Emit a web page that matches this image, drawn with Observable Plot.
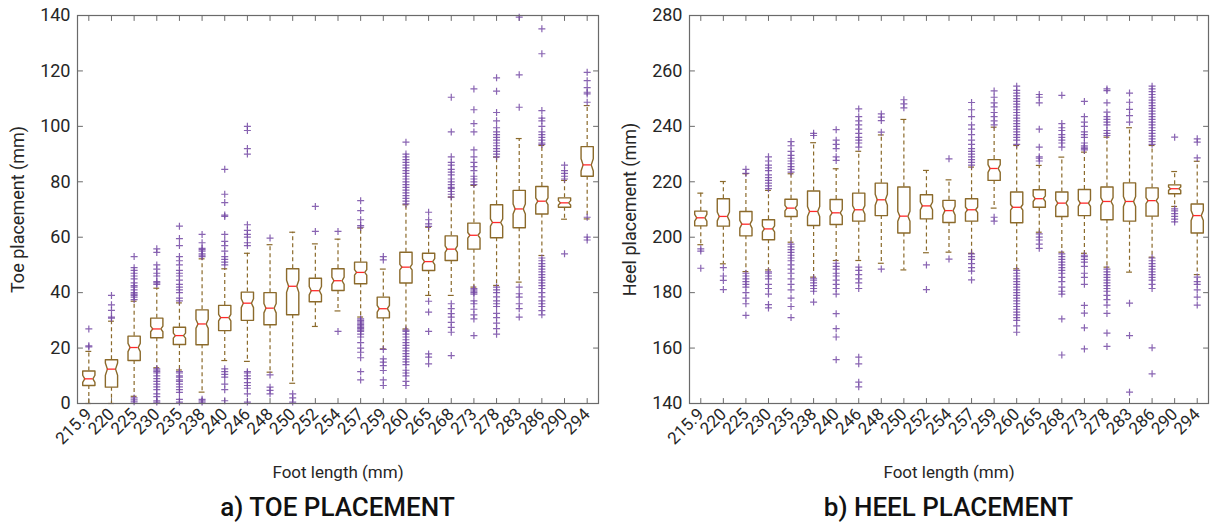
<!DOCTYPE html>
<html>
<head>
<meta charset="utf-8">
<script src="https://cdn.jsdelivr.net/npm/d3@7"></script>
<script src="https://cdn.jsdelivr.net/npm/@observablehq/plot@0.6"></script>
<style>
  body { margin: 0; background: #fff; font-family: Roboto, "DejaVu Sans", sans-serif; }
  #wrap { display: flex; width: 1210px; height: 522px; overflow: hidden; }
  .panel { width: 605px; }
  .panel svg { display: block; }
  .title { font-size: 26px; font-weight: 500; color: #111; text-align: center; line-height: 28px; padding-top: 5px; }
</style>
</head>
<body>
<div id="wrap"></div>
<script>
// Foot length categories (mm)
const categories = ["215.9","220","225","230","235","238","240","246","248","250","252","254","257","259","260","265","268","273","278","283","286","290","294"];

// ---- Toe placement (mm): box statistics per foot length ----
const toeQ1  = [6.5, 5.9, 15.5, 23.7, 21.3, 21.2, 26.3, 30.0, 28.4, 32.0, 36.7, 40.8, 43.2, 30.9, 43.5, 48.0, 51.6, 55.7, 59.8, 63.4, 68.4, 70.8, 82.0];
const toeMed = [8.9, 12.4, 20.2, 26.9, 24.5, 28.7, 31.0, 36.2, 34.4, 42.3, 40.7, 44.3, 47.3, 34.2, 49.2, 51.2, 55.7, 60.7, 65.3, 70.2, 73.0, 72.4, 86.1];
const toeQ3  = [11.7, 15.8, 24.3, 30.8, 27.5, 33.8, 35.4, 40.2, 40.0, 48.6, 45.2, 48.6, 51.0, 38.4, 54.6, 54.2, 60.5, 65.1, 71.7, 76.9, 78.3, 74.2, 92.7];
const toeLo  = [0, 0, 2.6, 12.9, 12.1, 4.1, 15.5, 15.2, 11.3, 7.3, 27.8, 33.4, 31.2, 19.7, 26.9, 39.0, 39.0, 42.0, 42.6, 43.8, 53.4, 66.5, 66.6];
const toeHi  = [18.8, 29.7, 36.9, 41.6, 36.3, 52.2, 48.6, 54.2, 57.3, 61.8, 57.6, 59.3, 63.3, 48.5, 71.7, 63.6, 74.5, 78.7, 88.9, 95.6, 93.1, 80.5, 107.5];
const toeNotch = [1.3, 2.2, 1.5, 1.0, 0.9, 1.6, 1.2, 1.6, 1.7, 2.2, 1.5, 1.3, 1.0, 1.2, 1.0, 1.1, 1.2, 1.0, 1.3, 1.8, 1.2, 0.8, 2.2];
const toeOutliers = [
  [20.4, 20.8, 26.9],
  [30.8, 31.2, 33.6, 35.6, 39.0],
  [0.6, 1.3, 2.0, 37.5, 38.4, 39, 39.5, 40, 41, 42, 42.5, 43.5, 45, 46, 47, 48, 49, 53],
  [0.5, 1, 2.5, 3.5, 5, 6, 7, 8, 9, 10, 11, 11.5, 12, 12.5, 43, 43.5, 44, 46, 47, 48.5, 50, 54.5, 55.8],
  [0.5, 1.5, 4, 5, 6, 7, 8, 8.5, 9.5, 10, 11, 11.5, 37, 38, 40, 41, 42, 43, 44.5, 46, 47, 48, 50, 51.5, 53, 57, 59.5, 64],
  [0.5, 1, 1.5, 53, 53.5, 54, 55, 55.5, 56, 58, 61],
  [1, 5, 7, 9.5, 10.5, 11.5, 12.5, 50, 51, 52, 53, 55, 57, 58.5, 61, 67.5, 68, 72.5, 75.5, 84.5],
  [0.5, 3.5, 5.5, 6.5, 7.5, 9, 10, 11, 11.5, 57, 58, 60, 61, 62.5, 64.5, 90, 92, 98.5, 100],
  [3.5, 4.7, 5.9, 10.3, 59.7],
  [0.5, 2, 3.5],
  [62.1, 71.1],
  [26, 62.1],
  [8.5, 11.5, 16.5, 18.5, 20, 22, 24, 25, 26, 26.5, 27, 27.5, 28, 28.5, 29, 29.5, 30, 30.5, 63.6, 64.2, 66.3, 69.6, 73.2],
  [6.5, 8.5, 11.9, 13.7, 14.9, 16.1, 19.5, 51.8, 53],
  [6.5, 8, 10, 11, 12, 14, 15, 16, 17, 18, 19, 20, 21, 22, 23, 24, 25, 26, 26.5, 72, 73, 74, 75, 76, 77, 78, 79, 80, 81, 82, 83, 84, 85, 86, 87, 88, 89, 90, 94.3],
  [14.3, 16.7, 17.9, 26, 33, 36.9, 63.9, 64.8, 66.3, 69],
  [17.3, 25.7, 27.5, 29.3, 31.2, 32.4, 34.2, 36, 74.5, 75.5, 76.5, 77.5, 78, 79, 80, 81, 82.5, 83.5, 84.5, 86, 87, 89, 98, 110.5],
  [24.5, 30.5, 32, 34, 36, 37, 39.5, 40, 40.5, 41, 41.5, 79, 80, 81, 82, 84, 85.5, 87, 89, 91.5, 98, 101, 106, 113.5],
  [25, 27, 29, 31, 32.5, 35, 36, 37, 38.5, 40, 41, 42, 89, 90, 91, 92, 93, 94, 95, 96, 97, 98, 99.5, 102, 105, 112.7, 117.5],
  [31.2, 34.2, 36, 38.4, 39.6, 42, 106.9, 118.6, 139.4],
  [32, 33.5, 35, 36, 37, 38.5, 40, 41.5, 42.5, 43.5, 44.5, 45.5, 46.5, 47.5, 48.5, 49.5, 50.5, 51.5, 52.5, 93.5, 94, 95, 96, 97, 98, 100, 102, 103, 105.7, 126.2, 135.2],
  [54, 81, 82, 83, 84, 86],
  [59, 60, 67.2, 108.7, 111.7, 112.3, 114, 116.5, 119.5]
];

// ---- Heel placement (mm): box statistics per foot length ----
const heelQ1  = [204.1, 204.0, 200.5, 199.1, 207.5, 204.2, 204.6, 205.8, 207.8, 201.5, 206.6, 205.3, 205.8, 220.5, 205.2, 210.8, 207.5, 207.8, 206.3, 205.8, 207.6, 215.7, 201.5];
const heelMed = [207.0, 207.5, 204.7, 203.0, 210.5, 209.3, 208.8, 209.9, 213.5, 207.6, 211.3, 209.6, 209.9, 224.8, 210.8, 213.9, 212.3, 212.3, 212.9, 212.9, 213.2, 217.5, 207.8];
const heelQ3  = [209.4, 213.9, 209.3, 206.3, 213.7, 216.7, 213.6, 215.9, 219.5, 218.1, 215.3, 213.3, 213.9, 228.0, 216.3, 217.1, 216.3, 217.2, 218.1, 219.6, 217.8, 218.9, 212.0];
const heelLo  = [197.3, 190.4, 187.6, 188.2, 198.2, 185.6, 191.6, 191.6, 190.6, 188.2, 194.4, 194.6, 194.2, 210.5, 188.6, 201.8, 194.6, 194.2, 189.2, 187.4, 192.8, 211.1, 186.5];
const heelHi  = [215.9, 220.1, 222.9, 216.9, 222.9, 234.1, 224.7, 231.0, 236.9, 242.5, 224.1, 220.7, 225.3, 239.7, 233.1, 225.9, 228.9, 230.7, 236.1, 239.5, 233.1, 223.7, 227.4];
const heelNotch = [1.2, 1.6, 1.4, 1.1, 1.0, 1.8, 1.2, 1.5, 2.0, 1.8, 1.4, 1.6, 1.0, 1.4, 1.0, 1.0, 1.2, 1.2, 1.4, 1.8, 1.1, 0.6, 1.8];
const heelOutliers = [
  [188.8, 195, 195.8],
  [181.1, 184.4, 186, 189],
  [171.8, 176, 178, 180, 182, 183, 184, 185, 186, 187, 223, 224.5],
  [174.5, 175.7, 179.5, 181.5, 183, 185, 186, 187, 187.5, 217.5, 218.5, 219.5, 220.5, 221.5, 222.5, 224, 225, 226, 227.5, 229],
  [171, 175, 178, 181, 183, 185, 187, 188.5, 190, 191.5, 192.5, 193.5, 194.5, 195.5, 196.5, 197.5, 223.5, 224.5, 225.5, 226.5, 227.5, 228.5, 229.5, 231, 233, 234.5],
  [176.6, 180.5, 181.5, 182.5, 183.5, 184.5, 185.2, 236.7, 237.5],
  [155.8, 164, 167, 172.4, 179.5, 181.5, 183, 184.5, 186, 187, 188.5, 189.5, 190.6, 227.7, 229, 232, 233.5, 235, 238.8],
  [146, 147.7, 154.3, 156.7, 181.5, 183.5, 185, 186.5, 188, 189.2, 232.5, 234, 235, 236, 237.5, 239, 240.5, 242, 243.5, 246.3],
  [188.5, 237.9, 242.1, 243.3, 244.5],
  [246.7, 248.1, 249.6],
  [181.1, 190],
  [192.1, 228.3],
  [184.6, 187.8, 189, 190.5, 192, 193, 194, 226, 227, 228, 229, 230, 231, 232, 233.5, 235, 237, 239, 240.5, 243.5, 246, 248.6],
  [205.8, 207.2, 240.5, 242, 243.5, 245, 247, 248.5, 250.5, 252.8],
  [165.7, 168, 170, 171, 172, 173, 174, 175, 176, 177, 178, 179, 180, 181, 182, 183, 184, 185, 186, 187, 188, 233.5, 235, 236, 237, 238, 239, 240, 241, 242, 243, 244, 245, 246, 247, 248, 249, 250, 251, 252, 253, 254.5],
  [196, 197.5, 199, 200, 201.2, 227.5, 228.5, 229, 232.5, 239, 248.5, 250.5, 251.5],
  [157.5, 170.5, 179.5, 180.5, 182, 184, 185.5, 187, 188, 189, 190, 191, 192, 193, 194, 232.5, 234, 235, 236, 237, 238.5, 239.5, 241, 251.2],
  [159.7, 167.3, 172.6, 175.4, 183, 185.5, 187, 189.5, 191, 192, 193, 193.5, 231.5, 232, 232.5, 233, 234, 236, 237, 238, 240, 241.5, 243.5, 249],
  [160.6, 165.4, 172.5, 175.5, 177.5, 179, 180.5, 181.5, 182.5, 183.5, 184.5, 185.5, 186.5, 187.5, 188.5, 236.7, 237.5, 238.5, 240.5, 241.5, 242.5, 243.5, 245.1, 248.5, 252.9, 253.5],
  [144.1, 164.5, 176.2, 241.5, 243.9, 246.1, 248.7, 252],
  [150.7, 160.1, 181.5, 183, 184.5, 185.5, 186.5, 187.5, 188.5, 189.5, 190.5, 191.5, 192.5, 233.5, 234.5, 235.5, 236.5, 237.5, 238.5, 239.5, 240.5, 241.5, 242.5, 243.5, 244.5, 245.5, 246.5, 247.5, 248.5, 249.5, 250.5, 251.5, 252.5, 253.5, 254.5],
  [205.5, 206.5, 207.5, 208.5, 209.5, 210.2, 236.1],
  [175.5, 178.4, 181, 183, 184, 185.6, 228.6, 234.3, 235.5]
];

const toeTicks = [0, 20, 40, 60, 80, 100, 120, 140];
const heelTicks = [140, 160, 180, 200, 220, 240, 260, 280];

// Styling
const BOX = "#8b6a2b", MEDIAN = "#ff2a2a", OUTLIER = "#7449a4", AXIS = "#6a6a6a", TEXT = "#262626";
const HALF = 0.27;      // half box width (category units)
const NOTCH = 0.18;     // half width at the notch waist
const CAP = 0.13;       // half whisker-cap width

// Plain stroked "+" marker for outliers
const plus = {
  draw(context, size) {
    const r = Math.sqrt(size / Math.PI);
    context.moveTo(-r, 0); context.lineTo(r, 0);
    context.moveTo(0, -r); context.lineTo(0, r);
  }
};
// Short straight tick drawn inward from the frame
const tickShape = {
  draw(context, length) { context.moveTo(0, 0); context.lineTo(0, -length); }
};

function boxPanel({q1, med, q3, lo, hi, notch, outliers, yDomain, yTicks, yLabel, marginLeft, marginRight}) {
  const idx = d3.range(1, categories.length + 1);
  const boxes = categories.map((c, k) => ({
    i: k + 1, q1: q1[k], med: med[k], q3: q3[k], lo: lo[k], hi: hi[k], notch: notch[k]
  }));
  // notched box outline, one closed path per category
  const outline = boxes.flatMap(b => {
    const nLo = Math.max(b.q1, b.med - b.notch), nHi = Math.min(b.q3, b.med + b.notch);
    return [[-HALF, b.q1], [HALF, b.q1], [HALF, nLo], [NOTCH, b.med], [HALF, nHi], [HALF, b.q3],
            [-HALF, b.q3], [-HALF, nHi], [-NOTCH, b.med], [-HALF, nLo], [-HALF, b.q1]]
      .map(([dx, y]) => ({box: b.i, x: b.i + dx, y}));
  });
  const points = outliers.flatMap((vals, k) => vals.map(v => ({i: k + 1, v})));

  return Plot.plot({
    width: 605,
    height: 488,
    marginLeft, marginRight,
    marginTop: 15,
    marginBottom: 85,
    style: {fontFamily: "Roboto, 'DejaVu Sans', sans-serif", fontSize: "18px", color: TEXT, background: "white"},
    x: {type: "linear", domain: [0.5, categories.length + 0.5]},
    y: {domain: yDomain},
    marks: [
      Plot.axisX(idx, {
        tickFormat: i => categories[i - 1], tickRotate: -45, tickSize: 0, tickPadding: 8,
        fontSize: 17, label: "Foot length (mm)", labelAnchor: "center", labelOffset: 74, labelArrow: "none"
      }),
      Plot.axisY(yTicks, {
        tickSize: 0, tickPadding: 7, fontSize: 18,
        label: yLabel, labelAnchor: "center", labelOffset: 66, labelArrow: "none"
      }),
      // inward ticks on all four sides
      Plot.vector(idx, {x: d => d, frameAnchor: "bottom", rotate: 0, length: 5, anchor: "start", shape: tickShape, stroke: AXIS, strokeWidth: 1}),
      Plot.vector(idx, {x: d => d, frameAnchor: "top", rotate: 180, length: 5, anchor: "start", shape: tickShape, stroke: AXIS, strokeWidth: 1}),
      Plot.vector(yTicks, {y: d => d, frameAnchor: "left", rotate: 90, length: 5, anchor: "start", shape: tickShape, stroke: AXIS, strokeWidth: 1}),
      Plot.vector(yTicks, {y: d => d, frameAnchor: "right", rotate: -90, length: 5, anchor: "start", shape: tickShape, stroke: AXIS, strokeWidth: 1}),
      // dashed whiskers and caps
      Plot.ruleX(boxes, {x: "i", y1: "q3", y2: "hi", stroke: BOX, strokeWidth: 1.2, strokeDasharray: "4,3"}),
      Plot.ruleX(boxes, {x: "i", y1: "q1", y2: "lo", stroke: BOX, strokeWidth: 1.2, strokeDasharray: "4,3"}),
      Plot.ruleY(boxes, {y: "hi", x1: d => d.i - CAP, x2: d => d.i + CAP, stroke: BOX, strokeWidth: 1.2}),
      Plot.ruleY(boxes, {y: "lo", x1: d => d.i - CAP, x2: d => d.i + CAP, stroke: BOX, strokeWidth: 1.2}),
      // notched boxes
      Plot.line(outline, {x: "x", y: "y", z: "box", stroke: BOX, strokeWidth: 1.4, fill: "white", curve: "linear"}),
      // medians
      Plot.ruleY(boxes, {y: "med", x1: d => d.i - NOTCH, x2: d => d.i + NOTCH, stroke: MEDIAN, strokeWidth: 1.3}),
      // outliers
      Plot.dot(points, {x: "i", y: "v", symbol: plus, r: 3.5, stroke: OUTLIER, fill: "none", strokeWidth: 1.2, strokeOpacity: 0.85}),
      Plot.frame({stroke: AXIS, strokeWidth: 1.2})
    ]
  });
}

function addPanel(plot, title, marginLeft, marginRight) {
  const div = document.createElement("div");
  div.className = "panel";
  div.appendChild(plot);
  const t = document.createElement("div");
  t.className = "title";
  t.style.paddingLeft = marginLeft + "px";
  t.style.paddingRight = marginRight + "px";
  t.textContent = title;
  div.appendChild(t);
  document.getElementById("wrap").appendChild(div);
}

addPanel(boxPanel({
  q1: toeQ1, med: toeMed, q3: toeQ3, lo: toeLo, hi: toeHi, notch: toeNotch, outliers: toeOutliers,
  yDomain: [0, 140], yTicks: toeTicks, yLabel: "Toe placement (mm)", marginLeft: 77, marginRight: 7
}), "a) TOE PLACEMENT", 77, 7);

addPanel(boxPanel({
  q1: heelQ1, med: heelMed, q3: heelQ3, lo: heelLo, hi: heelHi, notch: heelNotch, outliers: heelOutliers,
  yDomain: [140, 280], yTicks: heelTicks, yLabel: "Heel placement (mm)", marginLeft: 84, marginRight: 2
}), "b) HEEL PLACEMENT", 84, 2);
</script>
</body>
</html>
